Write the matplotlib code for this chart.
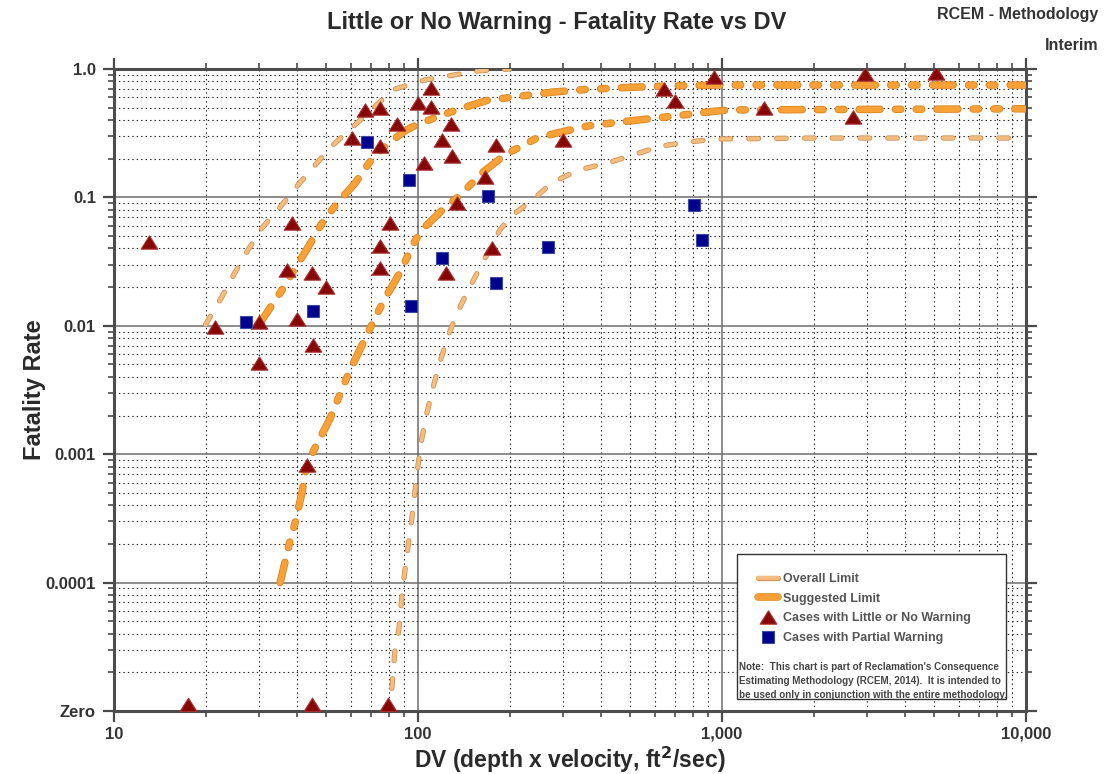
import matplotlib
matplotlib.use("Agg")
import matplotlib.pyplot as plt
import matplotlib.patheffects as pe
from matplotlib.lines import Line2D
from matplotlib.markers import MarkerStyle
from matplotlib.patches import Rectangle
from matplotlib.path import Path
from matplotlib.transforms import Affine2D
from matplotlib.ticker import LogLocator, NullFormatter, FixedLocator, FixedFormatter
import numpy as np

plt.rcParams['font.family'] = ['Liberation Sans', 'DejaVu Sans']
plt.rcParams['font.weight'] = 'bold'
plt.rcParams['lines.scale_dashes'] = False

# ---- data ----
# overall limit, upper curve
ov_up_dv = [20, 22.7, 25, 27.6, 30.9, 35.2, 40.3, 46.5, 52.5, 62, 82.8, 105, 132, 160, 200]
ov_up_fr = [0.0102, 0.017, 0.026, 0.039, 0.059, 0.084, 0.125, 0.185, 0.256, 0.366, 0.69, 0.82, 0.90, 0.97, 1.0]
# overall limit, lower curve
ov_lo_dv = [82, 84, 86.6, 88.5, 90.6, 92.7, 95.5, 97.7, 100, 103, 107, 112, 118, 126, 135, 148,
            186, 205, 236, 276, 336, 419, 510, 625, 773, 964, 2000, 10000]
ov_lo_fr = [1.5e-5, 3e-5, 4.4e-5, 7.7e-5, 1.25e-4, 1.9e-4, 3.2e-4, 5.1e-4, 8.2e-4, 1.34e-3, 2.1e-3,
            3.3e-3, 5.2e-3, 8.5e-3, 0.0128, 0.020, 0.056, 0.073, 0.094, 0.13, 0.163, 0.185, 0.214,
            0.25, 0.27, 0.285, 0.29, 0.29]
# suggested limit, upper curve
sg_up_dv = [30, 31.8, 35.7, 43.5, 48.7, 54.2, 62.1, 71.2, 81, 90.6, 99.3, 124, 145, 169, 236, 276,
            349, 500, 700, 1000, 10000]
sg_up_fr = [0.0103, 0.0126, 0.019, 0.041, 0.065, 0.090, 0.129, 0.206, 0.27, 0.33, 0.37, 0.45, 0.51,
            0.57, 0.63, 0.66, 0.69, 0.72, 0.74, 0.75, 0.75]
# suggested limit, lower curve
sg_lo_dv = [35.2, 37.7, 39.4, 41.5, 43.1, 46.5, 51.4, 56.2, 59.7, 65.9, 72.2, 77.9, 87.3, 96.3, 103,
            123, 135, 164, 193, 246, 291, 362, 465, 695, 879, 1047, 10000]
sg_lo_fr = [1e-4, 2e-4, 2.9e-4, 5e-4, 8.3e-4, 1.2e-3, 1.9e-3, 3.2e-3, 4.5e-3, 7.3e-3, 0.0115, 0.0164,
            0.026, 0.043, 0.056, 0.084, 0.10, 0.158, 0.214, 0.29, 0.32, 0.36, 0.387, 0.43, 0.46, 0.48, 0.49]

# cases with little or no warning
tri_dv = [13, 21.5, 30, 30, 37, 38.5, 40, 44.8, 45, 43, 50, 60.7, 67, 75, 75, 85, 75, 75, 81,
          100, 110, 110, 105, 120, 128, 129, 134, 124, 180, 166, 175, 300, 645, 700, 943, 1370,
          2700, 2950, 5060]
tri_fr = [0.045, 0.0098, 0.0107, 0.0051, 0.027, 0.063, 0.0113, 0.026, 0.0071, 0.00083, 0.020, 0.29,
          0.48, 0.50, 0.25, 0.37, 0.042, 0.028, 0.063, 0.54, 0.71, 0.505, 0.185, 0.28, 0.37, 0.21,
          0.09, 0.026, 0.255, 0.144, 0.040, 0.28, 0.70, 0.56, 0.87, 0.50, 0.42, 0.91, 0.93]
# little or no warning cases with zero fatality rate
zero_dv = [17.5, 44.9, 79.6]
zero_fr = [1e-5, 1e-5, 1e-5]

# cases with partial warning
sq_dv = [27.2, 45, 68, 93.5, 94.6, 120, 170, 180, 268, 809, 859]
sq_fr = [0.0107, 0.013, 0.27, 0.137, 0.0143, 0.034, 0.102, 0.0216, 0.041, 0.087, 0.047]

y_ticks = [1e-5, 1e-4, 1e-3, 1e-2, 1e-1, 1]
y_labels = ['Zero', '0.0001', '0.001', '0.01', '0.1', '1.0']
x_ticks = [10, 100, 1000, 10000]
x_labels = ['10', '100', '1,000', '10,000']

# ---- styles ----
thin_col, thin_edge = '#F4BD7E', '#CF9257'
thick_col, thick_edge = '#F8A136', '#DB8424'
tri_col, tri_edge = '#860606', '#A83030'
sq_col, sq_edge = '#00008F', '#3A4AA0'
tri_path = Path([(-1, -0.8), (1, -0.8), (0, 0.8), (-1, -0.8)],
                [Path.MOVETO, Path.LINETO, Path.LINETO, Path.CLOSEPOLY])
tri_marker = MarkerStyle(tri_path)
tri_zero_marker = MarkerStyle(tri_path, transform=Affine2D().translate(0, 0.4))

fig = plt.figure(figsize=(11.09, 7.74), dpi=100)
W, H = 1109.0, 774.0
ax = fig.add_axes([114 / W, 1 - 711 / H, 912 / W, 642 / H])
ax.set_xscale('log')
ax.set_yscale('log')
ax.set_xlim(10, 10000)
ax.set_ylim(1e-5, 1)

thin_pe = [pe.Stroke(linewidth=3.8, foreground=thin_edge), pe.Normal()]
thick_pe = [pe.Stroke(linewidth=5.4, foreground=thick_edge), pe.Normal()]
thin_ls = (0, (7, 13))
thick_ls = (0, (15, 11, 4, 11, 4, 11))

for dv, fr in [(ov_up_dv, ov_up_fr), (ov_lo_dv, ov_lo_fr)]:
    ax.plot(dv, fr, color=thin_col, lw=2.6, ls=thin_ls, dash_capstyle='round',
            path_effects=thin_pe, zorder=3)
for dv, fr in [(sg_up_dv, sg_up_fr), (sg_lo_dv, sg_lo_fr)]:
    ax.plot(dv, fr, color=thick_col, lw=4.2, ls=thick_ls, dash_capstyle='round',
            path_effects=thick_pe, zorder=3)

ax.plot(tri_dv, tri_fr, ls='none', marker=tri_marker, ms=12, mfc=tri_col, mec=tri_edge,
        mew=0.8, zorder=4)
ax.plot(zero_dv, zero_fr, ls='none', marker=tri_zero_marker, ms=12, mfc=tri_col, mec=tri_edge,
        mew=0.8, zorder=4, clip_on=False)
ax.plot(sq_dv, sq_fr, ls='none', marker='s', ms=8.2, mfc=sq_col, mec=sq_edge, mew=0.8, zorder=4)

# axes, ticks and grid
ax.xaxis.set_major_locator(FixedLocator(x_ticks))
ax.xaxis.set_major_formatter(FixedFormatter(x_labels))
ax.yaxis.set_major_locator(FixedLocator(y_ticks))
ax.yaxis.set_major_formatter(FixedFormatter(y_labels))
for a in (ax.xaxis, ax.yaxis):
    a.set_minor_locator(LogLocator(base=10, subs=np.arange(2, 10), numticks=20))
    a.set_minor_formatter(NullFormatter())

ax.tick_params(which='both', direction='out', top=True, right=True, color='#4a4a4a',
               labelcolor='#333333', labelsize=12)
ax.tick_params(which='major', length=8, width=1.6, pad=5)
ax.tick_params(axis='x', which='major', pad=3.5)
ax.tick_params(which='minor', length=4.5, width=1.2)
for s in ax.spines.values():
    s.set_linewidth(2.2)
    s.set_color('#4d4d4d')
ax.set_axisbelow(True)
ax.grid(which='major', color='#6e6e6e', lw=1.1, ls='-')
ax.grid(which='minor', color='#222222', lw=0.8, ls=(0, (1, 2.2)))

ax.set_xlabel('DV (depth x velocity, ft$^\\mathbf{2}$/sec)', fontsize=16.5, fontweight='bold',
              color='#2a2a2a')
ax.xaxis.set_label_coords(0.5, -34 / 642)
ax.set_ylabel('Fatality Rate', fontsize=17, fontweight='bold', color='#2a2a2a', labelpad=0)

fig.text(557 / W, 1 - 22 / H, 'Little or No Warning - Fatality Rate vs DV', ha='center',
         va='center', fontsize=17, fontweight='bold', color='#2a2a2a')
fig.text(1098 / W, 1 - 14 / H, 'RCEM - Methodology', ha='right', va='center', fontsize=11.5,
         fontweight='bold', color='#333333')
fig.text(1098 / W, 1 - 45 / H, 'Interim', ha='right', va='center', fontsize=11.5,
         fontweight='bold', color='#333333')

# legend box with note
box = Rectangle((737 / W, 1 - 699 / H), 269 / W, 145 / H, transform=fig.transFigure,
                facecolor='white', edgecolor='#333333', lw=1.0, zorder=5, clip_on=False)
ax.add_patch(box)

handles = [
    Line2D([], [], color=thin_col, lw=3, solid_capstyle='round', path_effects=thin_pe),
    Line2D([], [], color=thick_col, lw=4.6, solid_capstyle='round', path_effects=thick_pe),
    Line2D([], [], ls='none', marker=tri_marker, ms=12, mfc=tri_col, mec=tri_edge, mew=0.8),
    Line2D([], [], ls='none', marker='s', ms=8.2, mfc=sq_col, mec=sq_edge, mew=0.8),
]
labels = ['Overall Limit', 'Suggested Limit', 'Cases with Little or No Warning',
          'Cases with Partial Warning']
leg = ax.legend(handles, labels, loc='upper left', bbox_to_anchor=(758 / W, 1 - 573 / H),
                bbox_transform=fig.transFigure, frameon=False, borderpad=0, borderaxespad=0,
                handlelength=1.6, handletextpad=0.4, labelspacing=0.62,
                prop={'size': 9, 'weight': 'bold'})
for t in leg.get_texts():
    t.set_color('#555555')
leg.set_zorder(6)

note = ("Note:  This chart is part of Reclamation's Consequence\n"
        "Estimating Methodology (RCEM, 2014).  It is intended to\n"
        "be used only in conjunction with the entire methodology.")
ax.text(739 / W, 1 - 662 / H, note, transform=fig.transFigure, ha='left', va='top',
        fontsize=7.1, fontweight='bold', color='#444444', linespacing=1.5, zorder=7)

fig.savefig('out.png', dpi=100)
